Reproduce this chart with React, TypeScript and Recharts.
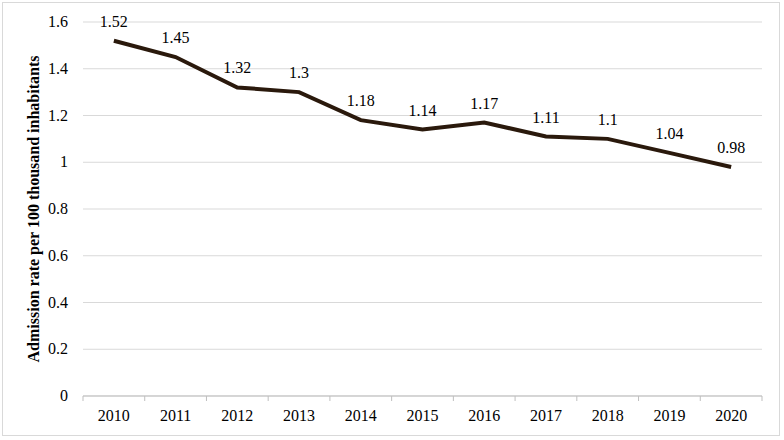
import { CartesianGrid, LabelList, Line, LineChart, XAxis, YAxis } from 'recharts';

const years = ['2010', '2011', '2012', '2013', '2014', '2015', '2016', '2017', '2018', '2019', '2020'];
const rates = [1.52, 1.45, 1.32, 1.3, 1.18, 1.14, 1.17, 1.11, 1.1, 1.04, 0.98];
const yTicks = [0, 0.2, 0.4, 0.6, 0.8, 1, 1.2, 1.4, 1.6];

const data = years.map((year, i) => ({ year, rate: rates[i] }));

const FONT = '"Liberation Serif", "Times New Roman", serif';
const PLOT_LEFT = 83;
const PLOT_RIGHT = 762;
const BAND = (PLOT_RIGHT - PLOT_LEFT) / years.length;

const textStyle = { fontFamily: FONT, fontSize: 16, fill: '#000' };

function YearTick(props: any) {
  const { x, y, payload, index } = props;
  const left = x - BAND / 2;
  return (
    <g>
      <line x1={left} y1={y - 8} x2={left} y2={y - 3} stroke="#bfbfbf" />
      {index === years.length - 1 && (
        <line x1={left + BAND} y1={y - 8} x2={left + BAND} y2={y - 3} stroke="#bfbfbf" />
      )}
      <text x={x} y={y + 17} textAnchor="middle" style={textStyle}>
        {payload.value}
      </text>
    </g>
  );
}

function ValueTick(props: any) {
  const { x, y, payload } = props;
  return (
    <text x={x} y={y} dy={5} textAnchor="end" style={textStyle}>
      {payload.value}
    </text>
  );
}

export default function App() {
  return (
    <div style={{ position: 'absolute', left: 0, top: 0, width: 784, height: 440, background: '#fff' }}>
      <div
        style={{
          position: 'absolute',
          left: 2,
          top: 2,
          width: 778,
          height: 434,
          border: '1px solid #d9d9d9',
          boxSizing: 'border-box',
        }}
      />
      <LineChart width={784} height={440} data={data} margin={{ top: 22, right: 22, bottom: 0, left: 0 }}>
        <CartesianGrid vertical={false} stroke="#d9d9d9" />
        <XAxis
          dataKey="year"
          height={44}
          padding={{ left: BAND / 2, right: BAND / 2 }}
          axisLine={{ stroke: '#bfbfbf' }}
          tickLine={false}
          tick={<YearTick />}
          interval={0}
        />
        <YAxis
          width={PLOT_LEFT}
          domain={[0, 1.6]}
          ticks={yTicks}
          axisLine={false}
          tickLine={false}
          tickMargin={9}
          tick={<ValueTick />}
          label={{
            value: 'Admission rate per 100 thousand inhabitants',
            angle: -90,
            position: 'insideLeft',
            dx: 28,
            style: { fontFamily: FONT, fontSize: 16, fontWeight: 'bold', fill: '#000', textAnchor: 'middle' },
          }}
        />
        <Line
          type="linear"
          dataKey="rate"
          stroke="#2a190c"
          strokeWidth={4}
          dot={false}
          isAnimationActive={false}
        >
          <LabelList dataKey="rate" position="top" offset={14} style={textStyle} />
        </Line>
      </LineChart>
    </div>
  );
}
